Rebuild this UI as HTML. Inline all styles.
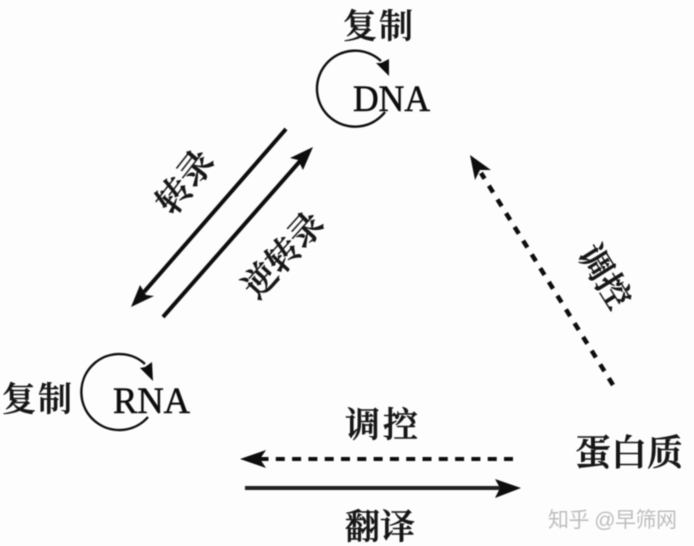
<!DOCTYPE html>
<html>
<head>
<meta charset="utf-8">
<style>
html,body{margin:0;padding:0;background:#fdfdfd;}
svg{display:block;}
.c{font-family:"Liberation Serif","Noto Serif CJK SC",serif;font-weight:600;fill:#161616;stroke:#161616;stroke-width:0.5;}
.l{font-family:"Liberation Serif",serif;fill:#111;stroke:#111;stroke-width:0.6;}
</style>
</head>
<body>
<svg width="694" height="546" viewBox="0 0 694 546" xmlns="http://www.w3.org/2000/svg">
<rect width="694" height="546" fill="#fdfdfd"/>
<g filter="url(#b)">
<defs><filter id="b" x="-5%" y="-5%" width="110%" height="110%"><feGaussianBlur stdDeviation="0.6"/></filter></defs>

<!-- DNA cycle -->
<path d="M385 112 A38 38 0 1 1 381 61" fill="none" stroke="#111" stroke-width="2.4"/>
<polygon points="389,76 376,63 381,63 389,59" fill="#111"/>
<text class="l" x="353" y="111" font-size="37" textLength="77" lengthAdjust="spacingAndGlyphs">DNA</text>
<text class="c" x="343" y="38" font-size="34" textLength="70">复制</text>

<!-- RNA cycle -->
<path d="M148 417 A38 38 0 1 1 145 364" fill="none" stroke="#111" stroke-width="2.4"/>
<polygon points="153,381 140,368 145,367 152,362" fill="#111"/>
<text class="l" x="113" y="413" font-size="37" textLength="77" lengthAdjust="spacingAndGlyphs">RNA</text>
<text class="c" x="2" y="411" font-size="34" textLength="70">复制</text>

<!-- Diagonal arrows -->
<line x1="286" y1="129" x2="144" y2="292" stroke="#111" stroke-width="4"/>
<polygon points="131,307 140,285 146,295 154,296" fill="#111"/>
<line x1="163" y1="317" x2="301" y2="160" stroke="#111" stroke-width="4"/>
<polygon points="313,147 303,170 298,160 290,158" fill="#111"/>
<text class="c" transform="translate(185 182) rotate(-52)" text-anchor="middle" y="12" font-size="35">转录</text>
<text class="c" transform="translate(283 255) rotate(-48)" text-anchor="middle" y="12" font-size="34">逆转录</text>

<!-- Dashed diagonal -->
<line x1="613" y1="385" x2="481" y2="173" stroke="#111" stroke-width="4.5" stroke-dasharray="8 8.2"/>
<polygon points="470,155 491,170 480,170 475,180" fill="#111"/>
<text class="c" transform="translate(604 277) rotate(58)" text-anchor="middle" y="11" font-size="34">调控</text>

<!-- Horizontal arrows -->
<line x1="513" y1="459" x2="256" y2="459" stroke="#111" stroke-width="4" stroke-dasharray="9 7.3"/>
<polygon points="240,459 266,450 260,459 266,468" fill="#111"/>
<line x1="245" y1="488" x2="505" y2="488" stroke="#222" stroke-width="4"/>
<polygon points="521,488 495,479 500,488 495,498" fill="#111"/>

<text class="c" x="345" y="437" font-size="35" textLength="73">调控</text>
<text class="c" x="345" y="539" font-size="35" textLength="70">翻译</text>
<text class="c" x="575" y="465" font-size="36" textLength="108">蛋白质</text>
<text x="548" y="527" font-size="21" textLength="129" fill="#bdbdbd" font-family="'Liberation Sans','Noto Sans CJK SC',sans-serif">知乎 @早筛网</text>
</g>
</svg>
</body>
</html>
